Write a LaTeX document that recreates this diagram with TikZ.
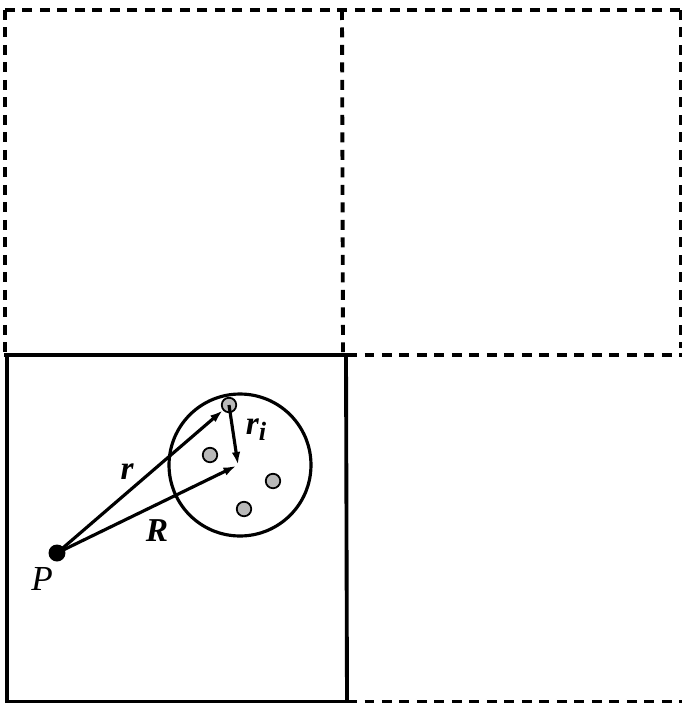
\documentclass[tikz,border=0pt]{standalone}
\usepackage{fontspec}
\setmainfont{Liberation Serif}
\usepackage{tikz}
\usetikzlibrary{arrows.meta, positioning, calc}
\tikzset{
  cellsolid/.style={line width=2.2pt},
  celldashed/.style={line width=2.2pt, dash pattern=on 0.2cm off 0.15cm},
  vecarrow/.style={
    -{Latex[length=2.6mm, width=1.7mm]}, line width=1.8pt
  },
  veclabel/.style={
    font=\fontsize{19}{22}\selectfont\bfseries\itshape, inner sep=1pt
  },
  pointlabel/.style={
    font=\fontsize{20}{23}\selectfont\itshape, inner sep=1pt
  },
}

\begin{document}
\begin{tikzpicture}[
  x=0.02cm, y=-0.02cm,
  particle/.style={circle, draw, line width=1pt, fill=gray!55,
    minimum size=0.29cm, inner sep=0pt},
  source/.style={circle, fill=black, minimum size=0.34cm, inner sep=0pt},
  cluster/.style={circle, draw, line width=1.8pt, minimum size=2.84cm, inner sep=0pt}
]
  \useasboundingbox (0,0) rectangle (682,703);

  % ── Cells ──
  \draw[celldashed] (5,10) -- (681,10);
  \draw[celldashed] (5,10) -- (5,352);
  \draw[celldashed] (342,10) -- (343,352);
  \draw[celldashed] (681,10) -- (681,348);
  \draw[celldashed] (347,355) -- (682,355);
  \draw[celldashed] (347,702) -- (682,702);
  \draw[cellsolid] (4,355) -- (350,355);
  \draw[cellsolid] (7,355) -- (7,702) -- (347,702) -- (346,355);

  % ── Cluster and particles ──
  \node[cluster] (cluster) at (240,465) {};
  \node[particle] (p1) at (229,405) {};
  \node[particle] (p2) at (210,455) {};
  \node[particle] (p3) at (273,481) {};
  \node[particle] (p4) at (244,509) {};
  \coordinate (ctr) at (238,465);
  \node[source] (P) at (57,553) {};

  % ── Vectors ──
  \draw[vecarrow] (P.center) -- (p1);
  \draw[vecarrow, shorten >=1pt] (P.center) -- (ctr);
  \draw[vecarrow] (p1.center) -- (ctr);

  % ── Labels ──
  \node[veclabel] (rlab) at (127,472) {r};
  \node[veclabel] (Rlab) at (157,531) {R};
  \node[veclabel] (rilab) at (256,430) {r\raisebox{-0.4ex}{\fontsize{15}{17}\selectfont i}};
  \node[pointlabel] (Plab) at (42,579) {P};
\end{tikzpicture}
\end{document}
